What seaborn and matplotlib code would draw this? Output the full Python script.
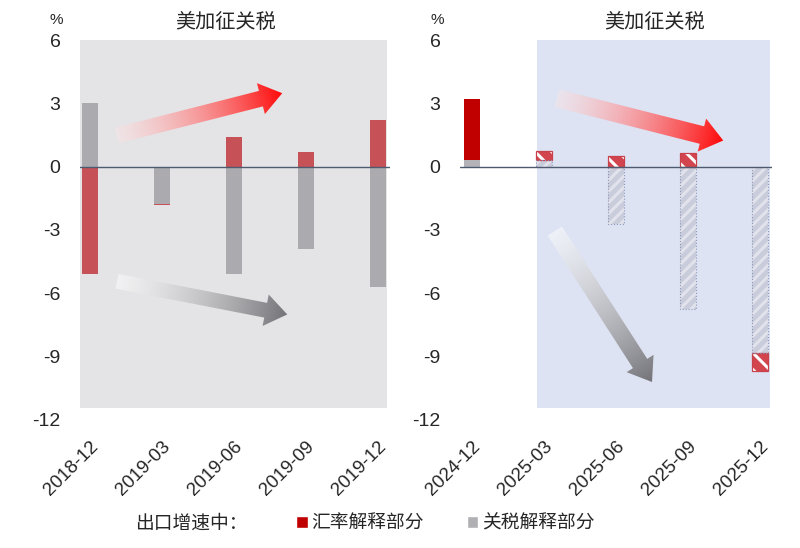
import numpy as np
import pandas as pd
import matplotlib
matplotlib.use('Agg')
import matplotlib.pyplot as plt
from matplotlib.patches import Polygon, Rectangle, Patch
import seaborn as sns

# data (%)
left_periods = ['2018-12', '2019-03', '2019-06', '2019-09', '2019-12']
left_fx = [-5.1, -0.07, 1.4, 0.7, 2.2]
left_tariff = [3.0, -1.75, -5.1, -3.9, -5.7]

right_periods = ['2024-12', '2025-03', '2025-06', '2025-09', '2025-12']
right_fx = [2.9, 0.46, 0.5, 0.65, -0.85]
right_tariff = [0.3, 0.3, -2.7, -6.75, -8.85]

y_ticks = [6, 3, 0, -3, -6, -9, -12]
panel_title = '美加征关税'
legend_prefix = '出口增速中：'
fx_label = '汇率解释部分'
tariff_label = '关税解释部分'

sns.set_style('white')
plt.rcParams['font.family'] = ['Liberation Sans', 'Noto Sans CJK SC']
plt.rcParams['axes.unicode_minus'] = False
plt.rcParams['hatch.linewidth'] = 2.2

fig = plt.figure(figsize=(8, 5.48), dpi=100)
ax1 = fig.add_axes([0.1, 0.2336, 0.3875, 0.6934])
ax2 = fig.add_axes([0.575, 0.2336, 0.39, 0.6934])


def draw_panel(ax, periods, fx, tariff, fx_colors, tariff_colors, hatched, xlim, shade, shade_color):
    fx = np.array(fx)
    tariff = np.array(tariff)
    same = np.sign(fx) == np.sign(tariff)
    df = pd.DataFrame({'period': periods,
                       'fx_end': np.where(same, fx + tariff, fx),
                       'tariff': tariff})
    n0 = len(ax.patches)
    sns.barplot(data=df, x='period', y='fx_end', hue='period', palette=fx_colors,
                width=0.22, saturation=1, linewidth=0, errorbar=None, legend=False, ax=ax)
    fx_bars = ax.patches[n0:]
    n1 = len(ax.patches)
    sns.barplot(data=df, x='period', y='tariff', hue='period', palette=tariff_colors,
                width=0.22, saturation=1, linewidth=0, errorbar=None, legend=False, ax=ax)
    tariff_bars = ax.patches[n1:]

    for i in hatched:
        r, g = fx_bars[i], tariff_bars[i]
        r.set_hatch('\\\\')
        r.set_edgecolor('white')
        r.set_linewidth(0)
        g.set_hatch('///')
        g.set_edgecolor((1, 1, 1, 0.45))
        g.set_linewidth(0)
        lo = g.get_height() if same[i] else 0
        ax.add_patch(Rectangle((r.get_x(), lo), r.get_width(), r.get_height() - lo,
                               fill=False, ec='#c8404c', lw=0.9, zorder=3))
        ax.add_patch(Rectangle((g.get_x(), 0), g.get_width(), g.get_height(),
                               fill=False, ec='#8e99b8', lw=0.8, ls=':', zorder=3))

    ax.add_patch(Rectangle((shade[0], -11.43), shade[1] - shade[0], 17.67,
                           fc=shade_color, ec='none', zorder=0))
    ax.axhline(0, color='#4d5a70', lw=1.0, zorder=4)
    ax.set_xlim(*xlim)
    ax.set_ylim(-12, 6)
    ax.set_yticks(y_ticks)
    ax.set_xticks(range(len(periods)), periods, rotation=45, ha='right', rotation_mode='anchor')
    ax.tick_params(axis='y', length=0, pad=14, labelsize=14)
    ax.tick_params(axis='x', length=0, pad=13, labelsize=13.5)
    ax.set_xlabel('')
    ax.set_ylabel('')
    ax.set_facecolor('none')
    sns.despine(ax=ax, left=True, bottom=True)


draw_panel(ax1, left_periods, left_fx, left_tariff,
           ['#c65258'] * 5, ['#ababaf'] * 5, [],
           (-0.139, 4.167), (-0.14, 4.125), '#e4e4e7')
draw_panel(ax2, right_periods, right_fx, right_tariff,
           ['#c00000'] + ['#d2454f'] * 4, ['#b4b4b8'] + ['#c9ccdb'] * 4, [1, 2, 3, 4],
           (-0.167, 4.167), (0.9, 4.14), '#dde3f2')

# gradient arrows
ov = fig.add_axes([0, 0, 1, 1], zorder=5)
ov.axis('off')


def gradient_arrow(src_ax, tail, tip, c0, c1, shaft=15, head_w=32, head_l=22):
    p0, p1 = src_ax.transData.transform([tail, tip])
    d = p1 - p0
    L = np.hypot(*d)
    u = d / L
    n = np.array([-u[1], u[0]])
    neck = p1 - u * head_l
    pts = np.array([p0 + n * shaft / 2, neck + n * shaft / 2, neck + n * head_w / 2, p1,
                    neck - n * head_w / 2, neck - n * shaft / 2, p0 - n * shaft / 2])
    poly = Polygon(pts, closed=True, fc='none', ec='none')
    ov.add_patch(poly)
    x0, y0 = pts.min(0) - 2
    x1, y1 = pts.max(0) + 2
    X, Y = np.meshgrid(np.linspace(x0, x1, 200), np.linspace(y0, y1, 200))
    t = np.clip(((X - p0[0]) * u[0] + (Y - p0[1]) * u[1]) / L, 0, 1)[..., None]
    rgba = np.array(c0) * (1 - t) + np.array(c1) * t
    im = ov.imshow(rgba, extent=[x0, x1, y0, y1], origin='lower',
                   interpolation='bilinear', aspect='auto', zorder=5)
    im.set_clip_path(poly)


red0, red1 = (1, 0.9, 0.9, 0.4), (1, 0.03, 0.03, 1)
gray0, gray1 = (1, 1, 1, 0.5), (0.45, 0.45, 0.47, 1)
gradient_arrow(ax1, (0.375, 1.48), (2.67, 3.48), red0, red1, shaft=16)
gradient_arrow(ax1, (0.375, -5.43), (2.74, -7.0), gray0, gray1)
gradient_arrow(ax2, (1.18, 3.24), (3.49, 1.24), red0, red1, shaft=18, head_w=34)
gradient_arrow(ax2, (1.15, -3.05), (2.5, -10.2), gray0, gray1, shaft=17)
ov.set_xlim(0, 800)
ov.set_ylim(0, 548)

# titles and units
for x in (225, 654):
    fig.text(x / 800, 1 - 22 / 548, panel_title, ha='center', va='center', fontsize=14.5)
for x in (56, 437):
    fig.text(x / 800, 1 - 20 / 548, '%', ha='center', va='center', fontsize=11)

# legend
fig.text(135 / 800, 1 - 524 / 548, legend_prefix, ha='left', va='center', fontsize=13.5)
fig.legend(handles=[Patch(fc='#c00000'), Patch(fc='#b0b0b4')],
           labels=[fx_label, tariff_label], loc='center left',
           bbox_to_anchor=(287 / 800, 1 - 524 / 548), ncol=2, frameon=False,
           handlelength=0.6, handleheight=0.6, handletextpad=0.2,
           columnspacing=2.3, fontsize=13.5, borderpad=0)

fig.savefig('out.png', dpi=100)
